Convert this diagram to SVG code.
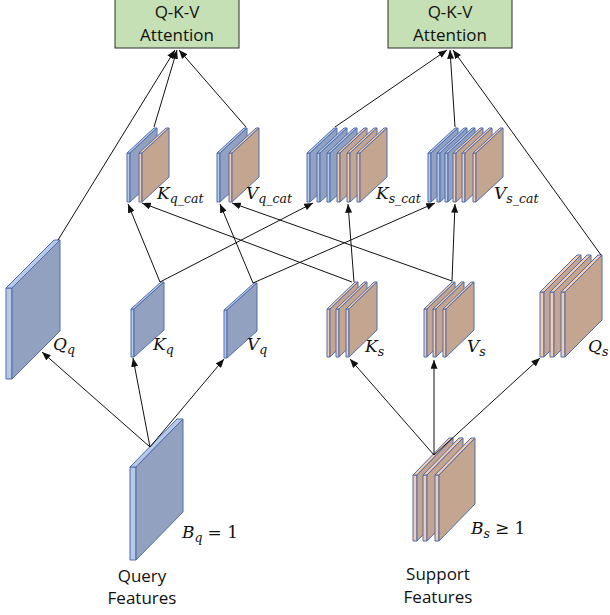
<svg xmlns="http://www.w3.org/2000/svg" xmlns:xlink="http://www.w3.org/1999/xlink" width="610" height="615" viewBox="0 0 610 615">
<style>
.box{fill:#c5e0b4;stroke:#2f2f2f;stroke-width:1}
.bt{font-family:"Open Sans","Liberation Sans",sans-serif;font-size:17px;fill:#111;text-anchor:middle}
.m{font-family:"DejaVu Serif","Liberation Serif",serif;font-style:italic;font-size:17px;fill:#111}
.sub{font-size:12.5px}
.up{font-style:normal}
.bf{fill:#b7c9e8;stroke:#4f6dab;stroke-width:1;stroke-linejoin:round}
.bs{fill:#91a1bf;stroke:#4f6dab;stroke-width:1;stroke-linejoin:round}
.of{fill:#f6cbad;stroke:#4f6dab;stroke-width:1;stroke-linejoin:round}
.os{fill:#c4a590;stroke:#4f6dab;stroke-width:1;stroke-linejoin:round}
.c line{stroke:#111;stroke-width:1;marker-end:url(#ah)}
</style>
<defs>
<marker id="ah" viewBox="0 0 10 8" refX="10" refY="4" markerWidth="9" markerHeight="7" markerUnits="userSpaceOnUse" orient="auto">
<path d="M0,0 L10,4 L0,8 z" fill="#111"/>
</marker>
<!-- Q_q big blue slab: w6 h91 dx48 dy-48 -->
<g id="sA">
<rect class="bf" x="0" y="0" width="6" height="91"/>
<path class="bf" d="M0,0 L6,0 L54,-48 L48,-48 z"/>
<path class="bs" d="M6,0 L54,-48 L54,43 L6,91 z"/>
</g>
<!-- K_q/V_q small blue slab: w3 h48 dx30 dy-27 -->
<g id="sB">
<rect class="bf" x="0" y="0" width="3" height="48"/>
<path class="bf" d="M0,0 L3,0 L33,-27 L30,-27 z"/>
<path class="bs" d="M3,0 L33,-27 L33,21 L3,48 z"/>
</g>
<!-- K_s/V_s orange slab: w3 h48 dx28 dy-27 -->
<g id="sC">
<rect class="of" x="0" y="0" width="3" height="48"/>
<path class="of" d="M0,0 L3,0 L31,-27 L28,-27 z"/>
<path class="os" d="M3,0 L31,-27 L31,21 L3,48 z"/>
</g>
<!-- Q_s orange slab: w4 h65 dx37 dy-37 -->
<g id="sD">
<rect class="of" x="0" y="0" width="4" height="65"/>
<path class="of" d="M0,0 L4,0 L41,-37 L37,-37 z"/>
<path class="os" d="M4,0 L41,-37 L41,28 L4,65 z"/>
</g>
<!-- Query features slab: w6 h93 dx47 dy-48 -->
<g id="sE">
<rect class="bf" x="0" y="0" width="6" height="93"/>
<path class="bf" d="M0,0 L6,0 L53,-48 L47,-48 z"/>
<path class="bs" d="M6,0 L53,-48 L53,45 L6,93 z"/>
</g>
<!-- Support features slab: w4 h66 dx36 dy-37 -->
<g id="sF">
<rect class="of" x="0" y="0" width="4" height="66"/>
<path class="of" d="M0,0 L4,0 L40,-37 L36,-37 z"/>
<path class="os" d="M4,0 L40,-37 L40,29 L4,66 z"/>
</g>
<!-- cat slabs: w3 h49 dx27 dy-25 -->
<g id="gB">
<rect class="bf" x="0" y="0" width="3" height="49"/>
<path class="bf" d="M0,0 L3,0 L30,-25 L27,-25 z"/>
<path class="bs" d="M3,0 L30,-25 L30,24 L3,49 z"/>
</g>
<g id="gO">
<rect class="of" x="0" y="0" width="3" height="49"/>
<path class="of" d="M0,0 L3,0 L30,-25 L27,-25 z"/>
<path class="os" d="M3,0 L30,-25 L30,24 L3,49 z"/>
</g>
</defs>

<g id="attn1">
<rect class="box" x="115" y="-2" width="124" height="50"/>
<text class="bt" x="177" y="18">Q-K-V</text>
<text class="bt" x="177" y="41">Attention</text>
</g>
<g id="attn2">
<rect class="box" x="388" y="-2" width="124" height="50"/>
<text class="bt" x="450" y="18">Q-K-V</text>
<text class="bt" x="450" y="41">Attention</text>
</g>

<g id="Kqcat">
<use xlink:href="#gB" x="127" y="153"/>
<use xlink:href="#gO" x="139" y="153"/>
<text class="m" x="157" y="199">K<tspan class="sub" dy="4">q_cat</tspan></text>
</g>
<g id="Vqcat">
<use xlink:href="#gB" x="217" y="153"/>
<use xlink:href="#gO" x="229" y="153"/>
<text class="m" x="246" y="199">V<tspan class="sub" dy="4">q_cat</tspan></text>
</g>
<g id="Kscat">
<use xlink:href="#gB" x="307" y="153"/>
<use xlink:href="#gB" x="317" y="153"/>
<use xlink:href="#gB" x="327" y="153"/>
<use xlink:href="#gO" x="337" y="153"/>
<use xlink:href="#gO" x="347" y="153"/>
<use xlink:href="#gO" x="357" y="153"/>
<text class="m" x="376" y="199">K<tspan class="sub" dy="4">s_cat</tspan></text>
</g>
<g id="Vscat">
<use xlink:href="#gB" x="428" y="153"/>
<use xlink:href="#gB" x="437" y="153"/>
<use xlink:href="#gB" x="445" y="153"/>
<use xlink:href="#gO" x="453" y="153"/>
<use xlink:href="#gO" x="462" y="153"/>
<use xlink:href="#gO" x="473" y="153"/>
<text class="m" x="494" y="199">V<tspan class="sub" dy="4">s_cat</tspan></text>
</g>

<g id="Qq">
<use xlink:href="#sA" x="6" y="288"/>
<text class="m" x="53" y="350">Q<tspan class="sub" dy="4">q</tspan></text>
</g>
<g id="Kq">
<use xlink:href="#sB" x="131" y="309"/>
<text class="m" x="153" y="350">K<tspan class="sub" dy="4">q</tspan></text>
</g>
<g id="Vq">
<use xlink:href="#sB" x="224" y="310"/>
<text class="m" x="247" y="350">V<tspan class="sub" dy="4">q</tspan></text>
</g>
<g id="Ks">
<use xlink:href="#sC" x="327" y="309"/>
<use xlink:href="#sC" x="336" y="309"/>
<use xlink:href="#sC" x="346" y="309"/>
<text class="m" x="365" y="352">K<tspan class="sub" dy="4">s</tspan></text>
</g>
<g id="Vs">
<use xlink:href="#sC" x="424" y="309"/>
<use xlink:href="#sC" x="433" y="309"/>
<use xlink:href="#sC" x="443" y="309"/>
<text class="m" x="467" y="352">V<tspan class="sub" dy="4">s</tspan></text>
</g>
<g id="Qs">
<use xlink:href="#sD" x="540" y="292"/>
<use xlink:href="#sD" x="550" y="292"/>
<use xlink:href="#sD" x="561" y="292"/>
<text class="m" x="588" y="352">Q<tspan class="sub" dy="4">s</tspan></text>
</g>

<g id="query">
<use xlink:href="#sE" x="130" y="467"/>
<text class="m" x="182" y="538">B<tspan class="sub" dy="4">q</tspan><tspan class="up" dy="-4" dx="5">= 1</tspan></text>
<text class="bt" x="142" y="582">Query</text>
<text class="bt" x="142" y="604">Features</text>
</g>
<g id="support">
<use xlink:href="#sF" x="413" y="475"/>
<use xlink:href="#sF" x="423" y="475"/>
<use xlink:href="#sF" x="435" y="475"/>
<text class="m" x="471" y="534">B<tspan class="sub" dy="4">s</tspan><tspan class="up" dy="-4" dx="5">≥ 1</tspan></text>
<text class="bt" x="438" y="580">Support</text>
<text class="bt" x="438" y="603">Features</text>
</g>

<g id="connectors" class="c">
<line x1="58" y1="240" x2="175" y2="50"/>
<line x1="154" y1="127" x2="177" y2="50"/>
<line x1="246" y1="127" x2="179" y2="50"/>
<line x1="335" y1="127" x2="447" y2="50"/>
<line x1="455" y1="127" x2="450" y2="50"/>
<line x1="601" y1="255" x2="453" y2="50"/>
<line x1="160" y1="282" x2="128" y2="204"/>
<line x1="160" y1="282" x2="313" y2="203"/>
<line x1="253" y1="283" x2="220" y2="204"/>
<line x1="253" y1="283" x2="435" y2="203"/>
<line x1="354" y1="282" x2="348" y2="204"/>
<line x1="352" y1="282" x2="142" y2="203"/>
<line x1="452" y1="281" x2="455" y2="204"/>
<line x1="452" y1="281" x2="232" y2="203"/>
<line x1="150" y1="447" x2="42" y2="352"/>
<line x1="150" y1="447" x2="133" y2="358"/>
<line x1="150" y1="447" x2="224" y2="359"/>
<line x1="434" y1="455" x2="350" y2="359"/>
<line x1="434" y1="455" x2="434" y2="360"/>
<line x1="434" y1="455" x2="540" y2="358"/>
</g>
</svg>
